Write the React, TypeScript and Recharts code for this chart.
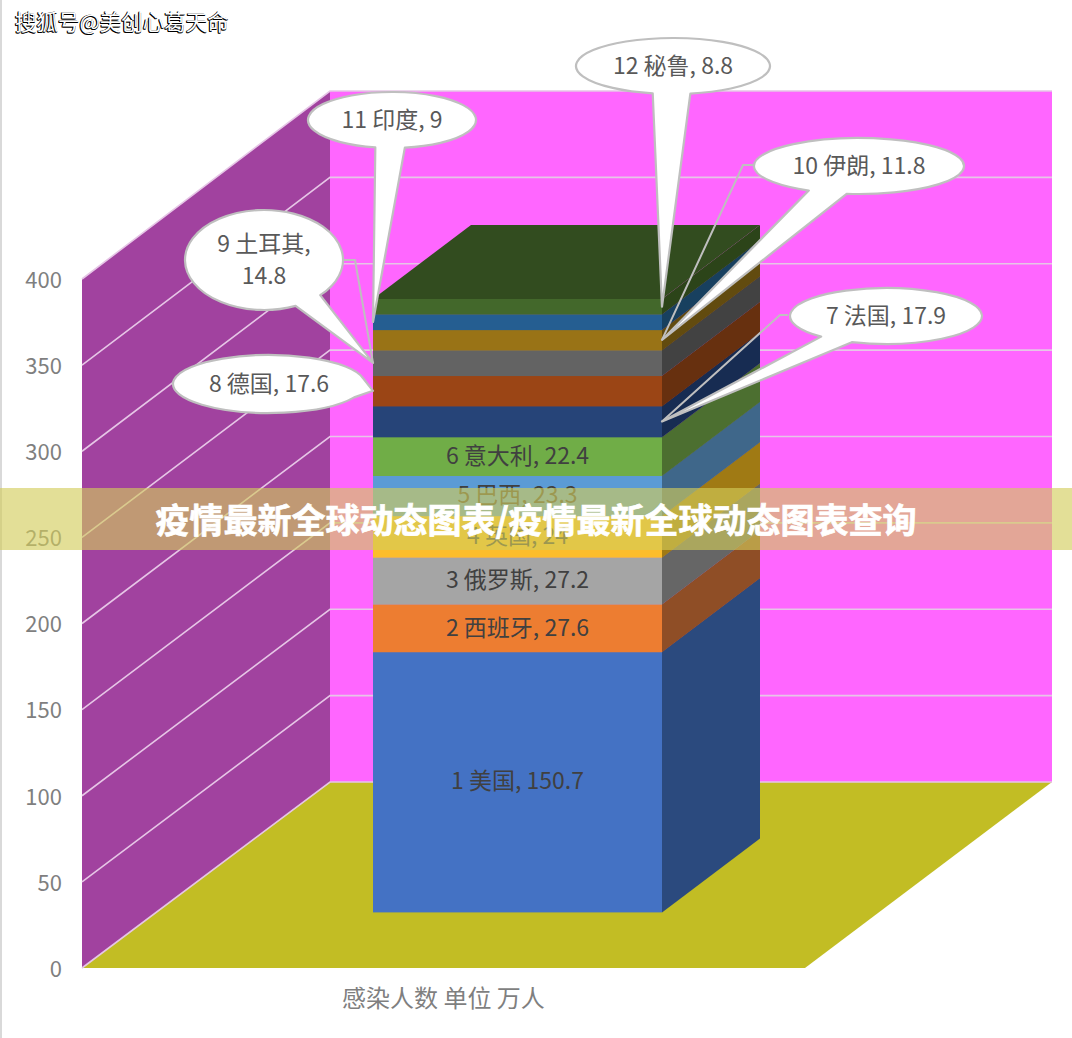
import React from 'react';
import { ComposedChart, Bar, XAxis, YAxis, LabelList, Customized } from 'recharts';

const CATEGORY = '感染人数 单位 万人';
const RANKS = [1, 2, 3, 4, 5, 6, 7, 8, 9, 10, 11, 12];
const COUNTRIES = ['美国', '西班牙', '俄罗斯', '英国', '巴西', '意大利', '法国', '德国', '土耳其', '伊朗', '印度', '秘鲁'];
const CASES = [150.7, 27.6, 27.2, 24, 23.3, 22.4, 17.9, 17.6, 14.8, 11.8, 9, 8.8];
const Y_TICKS = [0, 50, 100, 150, 200, 250, 300, 350, 400];

const FRONT = ['#4472c4', '#ed7d31', '#a5a5a5', '#fdbd2b', '#5b9bd5', '#70ad47', '#264478', '#9b4515', '#636363', '#997316', '#255e91', '#43682b'];
const SIDE = ['#2b4a7e', '#8f4e26', '#666666', '#a07a14', '#3f678a', '#4c6f30', '#172c52', '#67300f', '#424242', '#624b0f', '#18405f', '#2c4419'];
const TOP_COLOR = '#324c1f';

const W = 1072;
const H = 1038;
const PLOT = { left: 82, right: 805, top: 279, bottom: 968 };
// projection of the 3D box: the bar's front face sits forward of the axis plane
const SHIFT = { x: 74, y: -56 };
const FRONT_SCALE = 1.0022;
const DEPTH = { x: 98, y: -74 };
const WALL = { x: 248, y: -186 };
const projectY = (y: number) => PLOT.bottom + SHIFT.y + (y - PLOT.bottom) * FRONT_SCALE;

type Callout = { rank: number; cx: number; cy: number; rx: number; ry: number; a: [number, number]; b: [number, number]; side: 'l' | 'r'; leader?: [number, number][]; lines: string[] };
const CALLOUTS: Callout[] = [
  { rank: 7, cx: 886, cy: 316, rx: 96, ry: 28, a: [820, 337], b: [852, 342], side: 'r', leader: [[788, 315], [780, 315]], lines: ['7 法国, 17.9'] },
  { rank: 8, cx: 269, cy: 384, rx: 96, ry: 29, a: [363, 378], b: [358, 398], side: 'l', lines: ['8 德国, 17.6'] },
  { rank: 9, cx: 264, cy: 260, rx: 79, ry: 50, a: [320, 295], b: [295, 305], side: 'l', leader: [[343, 260], [355, 260]], lines: ['9 土耳其,', '14.8'] },
  { rank: 10, cx: 859, cy: 166, rx: 105, ry: 28, a: [810, 190], b: [847, 193], side: 'r', leader: [[753, 165], [743, 165]], lines: ['10 伊朗, 11.8'] },
  { rank: 11, cx: 392, cy: 120, rx: 84, ry: 28, a: [375, 148], b: [405, 148], side: 'l', lines: ['11 印度, 9'] },
  { rank: 12, cx: 673, cy: 66, rx: 97, ry: 28, a: [653, 93], b: [690, 93], side: 'r', lines: ['12 秘鲁, 8.8'] },
];

const FONT = '"Noto Sans CJK SC", "Noto Sans", sans-serif';
const row: Record<string, string | number> = { name: CATEGORY };
CASES.forEach((v, i) => { row[`s${i}`] = v; });
const DATA = [row];

const poly = (pts: number[][]) => pts.map((p) => p.join(',')).join(' ');

function Walls() {
  const { left: l, bottom: b, top: t } = PLOT;
  const backX = l + WALL.x;
  const backB = b + WALL.y;
  const backT = 91;
  const farX = 1052;
  const unitFront = (b - t) / 400;
  const unitBack = (backB - backT) / 400;
  return (
    <g>
      <polygon points={poly([[l, t], [backX, backT], [backX, backB], [l, b]])} fill="#a1429f" />
      <polygon points={poly([[backX, backT], [farX, backT], [farX, backB], [backX, backB]])} fill="#ff66ff" />
      <polygon points={poly([[l, b], [backX, backB], [farX, backB], [PLOT.right, b]])} fill="#c2bd24" />
      {Y_TICKS.map((v) => {
        const y0 = b - v * unitFront;
        const y1 = backB - v * unitBack;
        return (
          <g key={v} stroke="#e6c6e6" strokeWidth={1.6} fill="none">
            <polyline points={poly([[l, y0], [backX, y1], [farX, y1]])} />
          </g>
        );
      })}
    </g>
  );
}

function Segment(props: any, i: number) {
  const { x, y, width, height } = props;
  const fx = x + SHIFT.x;
  const fy = projectY(y);
  const fh = projectY(y + height) - fy;
  const last = i === CASES.length - 1;
  return (
    <g>
      <rect x={fx} y={fy} width={width} height={fh + 0.4} fill={FRONT[i]} />
      <polygon
        points={poly([[fx + width, fy + fh + 0.4], [fx + width, fy], [fx + width + DEPTH.x, fy + DEPTH.y], [fx + width + DEPTH.x, fy + fh + DEPTH.y + 0.4]])}
        fill={SIDE[i]}
      />
      {last && (
        <polygon
          points={poly([[fx, fy], [fx + width, fy], [fx + width + DEPTH.x, fy + DEPTH.y], [fx + DEPTH.x, fy + DEPTH.y]])}
          fill={TOP_COLOR}
        />
      )}
    </g>
  );
}

function calloutPath(c: Callout, tip: number[]) {
  const ang = (p: [number, number]) => Math.atan2((p[1] - c.cy) / c.ry, (p[0] - c.cx) / c.rx);
  const a1 = ang(c.a);
  const a2 = ang(c.b);
  const pt = (t: number) => [c.cx + c.rx * Math.cos(t), c.cy + c.ry * Math.sin(t)];
  let d = a2 - a1;
  while (d > Math.PI) d -= 2 * Math.PI;
  while (d < -Math.PI) d += 2 * Math.PI;
  const sweep = d > 0 ? 0 : 1;
  const [ax, ay] = pt(a1);
  const [bx, by] = pt(a2);
  return `M${tip[0]},${tip[1]} L${ax},${ay} A${c.rx},${c.ry} 0 1 ${sweep} ${bx},${by} Z`;
}

function SegmentLabel(props: any, i: number) {
  const { x, y, width, height } = props;
  const fx = x + SHIFT.x;
  const fy = projectY(y);
  const fh = projectY(y + height) - fy;
  const call = CALLOUTS.find((c) => c.rank === RANKS[i]);
  if (!call) {
    return (
      <text x={fx + width / 2} y={fy + fh / 2 - 2.5} textAnchor="middle" dominantBaseline="central" fontFamily={FONT} fontSize={23} fill="#404040">
        {`${RANKS[i]} ${COUNTRIES[i]}, ${CASES[i]}`}
      </text>
    );
  }
  const tip = [call.side === 'l' ? fx : fx + width, fy + fh / 2];
  const gap = 32;
  const y0 = call.cy - 2 - ((call.lines.length - 1) * gap) / 2;
  return (
    <g>
      {call.leader && (
        <polyline points={poly([...call.leader, tip])} fill="none" stroke="#bfbfbf" strokeWidth={2} />
      )}
      <path d={calloutPath(call, tip)} fill="#ffffff" stroke="#bfbfbf" strokeWidth={2.2} strokeLinejoin="round" />
      {call.lines.map((t, k) => (
        <text key={k} x={call.cx} y={y0 + k * gap} textAnchor="middle" dominantBaseline="central" fontFamily={FONT} fontSize={23} fill="#595959">
          {t}
        </text>
      ))}
    </g>
  );
}

export default function App() {
  return (
    <div style={{ position: 'absolute', left: 0, top: 0, width: W, height: H, background: '#fff', overflow: 'hidden' }}>
      <div style={{ position: 'absolute', left: 0, top: 0, width: 2, height: H, background: '#d9d9d9' }} />
      <ComposedChart
        width={W}
        height={H}
        data={DATA}
        margin={{ left: 22, right: W - PLOT.right, top: PLOT.top, bottom: 30 }}
        barSize={289}
        style={{ position: 'absolute', left: 0, top: 0 }}
      >
        <Customized component={Walls} />
        <XAxis
          dataKey="name"
          axisLine={false}
          tickLine={false}
          height={40}
          tickMargin={16}
          tick={{ fontFamily: FONT, fontSize: 24, fill: '#7f7f7f' }}
        />
        <YAxis
          type="number"
          domain={[0, 400]}
          ticks={Y_TICKS}
          width={60}
          axisLine={false}
          tickLine={false}
          tickMargin={14}
          tick={{ fontFamily: FONT, fontSize: 22, fill: '#7f7f7f', dy: 1 }}
        />
        {CASES.map((_, i) => (
          <Bar
            key={i}
            dataKey={`s${i}`}
            stackId="cases"
            isAnimationActive={false}
            shape={(p: any) => Segment(p, i)}
          >
            <LabelList dataKey={`s${i}`} content={(p: any) => SegmentLabel(p, i)} />
          </Bar>
        ))}
      </ComposedChart>
      <div style={{ position: 'absolute', left: 15, top: 6, fontFamily: FONT, fontSize: 21.5, lineHeight: '30px', color: '#fff', textShadow: '-1px 1px 0 #000, -1px 0 0 #000, 0 1px 0 #000', whiteSpace: 'nowrap' }}>
        搜狐号@美创心葛天命
      </div>
      <div style={{ position: 'absolute', left: 0, top: 488, width: W, height: 62, background: 'rgba(210,205,90,0.63)' }} />
      <div style={{ position: 'absolute', left: 0, top: 488, width: W, height: 62, lineHeight: '62px', textAlign: 'center', fontFamily: FONT, fontWeight: 700, fontSize: 34, color: '#fff', WebkitTextStroke: '0.7px #fff', whiteSpace: 'nowrap' }}>
        疫情最新全球动态图表/疫情最新全球动态图表查询
      </div>
    </div>
  );
}
